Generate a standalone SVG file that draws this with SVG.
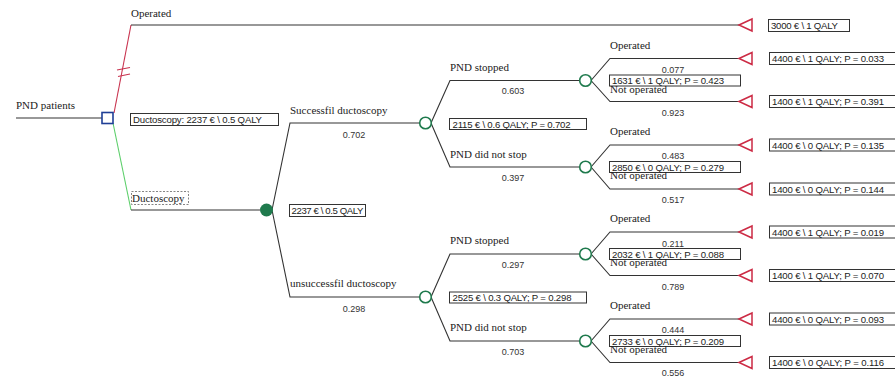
<svg xmlns="http://www.w3.org/2000/svg" width="895" height="379" viewBox="0 0 895 379">
  <defs>
    <style>
      .edge { fill: none; stroke: #333; stroke-width: 1.1; }
      .lbl { font-family: "Liberation Serif", "Times New Roman", serif; font-size: 11px; fill: #222; }
      .prob { font-family: "Liberation Sans", Arial, sans-serif; font-size: 9px; fill: #333; text-anchor: middle; }
      .box { fill: #fff; stroke: #333; stroke-width: 1; }
      .boxtxt { font-family: "Liberation Sans", Arial, sans-serif; font-size: 9.6px; fill: #222; }
      .chance { fill: #fff; stroke: #1f7a4d; stroke-width: 1.6; }
      .term { fill: #fff; stroke: #cc2a44; stroke-width: 1.5; }
    </style>
    <polygon id="tri" class="term" points="0,0 13,-6 13,6"/>
  </defs>
  <rect width="895" height="379" fill="#fff"/>

  <!-- connectors -->
  <g id="connectors">
    <line class="edge" x1="16" y1="118" x2="102" y2="118"/>
    <!-- decision: Operated (blocked) -->
    <polyline points="114,113 131,25" fill="none" stroke="#c8324e" stroke-width="1.1"/>
    <line x1="117" y1="70" x2="130" y2="67.5" stroke="#c8324e" stroke-width="1.1"/>
    <line x1="118" y1="76.5" x2="130" y2="74" stroke="#c8324e" stroke-width="1.1"/>
    <line class="edge" x1="131" y1="25" x2="739" y2="25"/>
    <!-- decision: Ductoscopy -->
    <polyline points="113,123 131,210" fill="none" stroke="#5ccf6a" stroke-width="1.1"/>
    <line class="edge" x1="131" y1="210" x2="260" y2="210"/>
    <!-- ductoscopy outcome -->
    <polyline class="edge" points="272,210 290,123 420,123"/>
    <polyline class="edge" points="272,210 290,297 420,297"/>
    <!-- PND after success -->
    <polyline class="edge" points="431,123 450,80.5 579,80.5"/>
    <polyline class="edge" points="431,123 450,167 579,167"/>
    <!-- PND after failure -->
    <polyline class="edge" points="431,297 450,254 579,254"/>
    <polyline class="edge" points="431,297 450,341 579,341"/>
    <!-- operation branches -->
    <polyline class="edge" points="591,80.5 610,58.5 739,58.5"/>
    <polyline class="edge" points="591,80.5 610,101.5 739,101.5"/>
    <polyline class="edge" points="591,167 610,145 739,145"/>
    <polyline class="edge" points="591,167 610,189 739,189"/>
    <polyline class="edge" points="591,254 610,232 739,232"/>
    <polyline class="edge" points="591,254 610,275.5 739,275.5"/>
    <polyline class="edge" points="591,341 610,319 739,319"/>
    <polyline class="edge" points="591,341 610,362.5 739,362.5"/>
  </g>

  <!-- root decision -->
  <g id="root">
    <text class="lbl" x="16" y="109">PND patients</text>
    <rect x="102" y="112.5" width="11" height="11" fill="#fff" stroke="#1f3f96" stroke-width="1.6"/>
  </g>

  <g id="operated">
    <text class="lbl" x="131" y="17">Operated</text>
    <use href="#tri" x="739" y="25"/>
    <rect class="box" x="768.5" y="19.5" width="81" height="12"/>
    <text class="boxtxt" x="771" y="29" textLength="67" lengthAdjust="spacing">3000 € \ 1 QALY</text>
  </g>

  <g id="ductoscopy">
    <rect class="box" x="130.5" y="113.5" width="148" height="12"/>
    <text class="boxtxt" x="133" y="123" textLength="129" lengthAdjust="spacing">Ductoscopy: 2237 € \ 0.5 QALY</text>
    <rect x="131.5" y="191.5" width="57" height="13" fill="#fff" stroke="#666" stroke-width="0.8" stroke-dasharray="2,1.5"/>
    <text class="lbl" x="132" y="202">Ductoscopy</text>
  </g>

  <g id="ductoscopy-chance">
    <circle cx="266.5" cy="210" r="6.5" fill="#1f7a4d"/>
    <rect class="box" x="289.5" y="204.5" width="76" height="12"/>
    <text class="boxtxt" x="291.5" y="214" textLength="72" lengthAdjust="spacing">2237 € \ 0.5 QALY</text>
  </g>

  <!-- successful ductoscopy -->
  <g id="success">
    <text class="lbl" x="290" y="114">Successfil ductoscopy</text>
    <text class="prob" x="354" y="138">0.702</text>
    <circle class="chance" cx="425.5" cy="123" r="5.8"/>
    <rect class="box" x="449.5" y="118.5" width="137" height="11"/>
    <text class="boxtxt" x="452.5" y="127.5" textLength="118" lengthAdjust="spacing">2115 € \ 0.6 QALY; P = 0.702</text>
  </g>

  <g id="success-stopped">
    <text class="lbl" x="450" y="71">PND stopped</text>
    <text class="prob" x="513" y="94">0.603</text>
    <circle class="chance" cx="585.5" cy="80.5" r="5.8"/>
    <text class="lbl" x="610" y="48.5">Operated</text>
    <text class="prob" x="673" y="73">0.077</text>
    <rect class="box" x="609.5" y="75" width="131" height="11"/>
    <text class="boxtxt" x="612" y="84" textLength="112" lengthAdjust="spacing">1631 € \ 1 QALY; P = 0.423</text>
    <text class="lbl" x="610" y="93">Not operated</text>
    <text class="prob" x="673" y="116">0.923</text>
    <use href="#tri" x="739" y="58.5"/>
    <rect class="box" x="769.5" y="52.5" width="131" height="12"/>
    <text class="boxtxt" x="772" y="62" textLength="112" lengthAdjust="spacing">4400 € \ 1 QALY; P = 0.033</text>
    <use href="#tri" x="739" y="101.5"/>
    <rect class="box" x="769.5" y="95.5" width="131" height="12"/>
    <text class="boxtxt" x="772" y="105" textLength="112" lengthAdjust="spacing">1400 € \ 1 QALY; P = 0.391</text>
  </g>

  <g id="success-not-stopped">
    <text class="lbl" x="450" y="158">PND did not stop</text>
    <text class="prob" x="513" y="181">0.397</text>
    <circle class="chance" cx="585.5" cy="167" r="5.8"/>
    <text class="lbl" x="610" y="135">Operated</text>
    <text class="prob" x="673" y="159">0.483</text>
    <rect class="box" x="609.5" y="161.5" width="131" height="11"/>
    <text class="boxtxt" x="612" y="170.5" textLength="112" lengthAdjust="spacing">2850 € \ 0 QALY; P = 0.279</text>
    <text class="lbl" x="610" y="179">Not operated</text>
    <text class="prob" x="673" y="203">0.517</text>
    <use href="#tri" x="739" y="145"/>
    <rect class="box" x="769.5" y="139" width="131" height="12"/>
    <text class="boxtxt" x="772" y="148.5" textLength="112" lengthAdjust="spacing">4400 € \ 0 QALY; P = 0.135</text>
    <use href="#tri" x="739" y="189"/>
    <rect class="box" x="769.5" y="183" width="131" height="12"/>
    <text class="boxtxt" x="772" y="192.5" textLength="112" lengthAdjust="spacing">1400 € \ 0 QALY; P = 0.144</text>
  </g>

  <!-- unsuccessful ductoscopy -->
  <g id="failure">
    <text class="lbl" x="290" y="287">unsuccessfil ductoscopy</text>
    <text class="prob" x="354" y="312">0.298</text>
    <circle class="chance" cx="425.5" cy="297" r="5.8"/>
    <rect class="box" x="449.5" y="292" width="137" height="11"/>
    <text class="boxtxt" x="452.5" y="301" textLength="119" lengthAdjust="spacing">2525 € \ 0.3 QALY; P = 0.298</text>
  </g>

  <g id="failure-stopped">
    <text class="lbl" x="450" y="244">PND stopped</text>
    <text class="prob" x="513" y="268">0.297</text>
    <circle class="chance" cx="585.5" cy="254" r="5.8"/>
    <text class="lbl" x="610" y="222">Operated</text>
    <text class="prob" x="673" y="246.5">0.211</text>
    <rect class="box" x="609.5" y="248.5" width="131" height="11"/>
    <text class="boxtxt" x="612" y="257.5" textLength="112" lengthAdjust="spacing">2032 € \ 1 QALY; P = 0.088</text>
    <text class="lbl" x="610" y="266">Not operated</text>
    <text class="prob" x="673" y="290">0.789</text>
    <use href="#tri" x="739" y="232"/>
    <rect class="box" x="769.5" y="226" width="131" height="12"/>
    <text class="boxtxt" x="772" y="235.5" textLength="112" lengthAdjust="spacing">4400 € \ 1 QALY; P = 0.019</text>
    <use href="#tri" x="739" y="275.5"/>
    <rect class="box" x="769.5" y="269.5" width="131" height="12"/>
    <text class="boxtxt" x="772" y="279" textLength="112" lengthAdjust="spacing">1400 € \ 1 QALY; P = 0.070</text>
  </g>

  <g id="failure-not-stopped">
    <text class="lbl" x="450" y="331">PND did not stop</text>
    <text class="prob" x="513" y="355">0.703</text>
    <circle class="chance" cx="585.5" cy="341" r="5.8"/>
    <text class="lbl" x="610" y="308.5">Operated</text>
    <text class="prob" x="673" y="333">0.444</text>
    <rect class="box" x="609.5" y="335.5" width="131" height="11"/>
    <text class="boxtxt" x="612" y="344.5" textLength="112" lengthAdjust="spacing">2733 € \ 0 QALY; P = 0.209</text>
    <text class="lbl" x="610" y="352.5">Not operated</text>
    <text class="prob" x="673" y="376">0.556</text>
    <use href="#tri" x="739" y="319"/>
    <rect class="box" x="769.5" y="313" width="131" height="12"/>
    <text class="boxtxt" x="772" y="322.5" textLength="112" lengthAdjust="spacing">4400 € \ 0 QALY; P = 0.093</text>
    <use href="#tri" x="739" y="362.5"/>
    <rect class="box" x="769.5" y="356.5" width="131" height="12"/>
    <text class="boxtxt" x="772" y="366" textLength="112" lengthAdjust="spacing">1400 € \ 0 QALY; P = 0.116</text>
  </g>
</svg>
